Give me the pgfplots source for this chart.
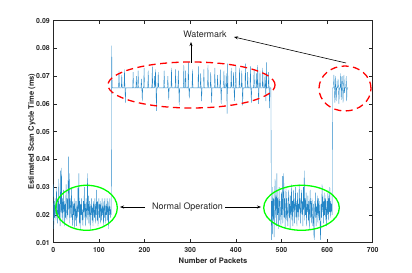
\documentclass[border=0pt]{standalone}
\usepackage{pgfplots}
\pgfplotsset{compat=1.18}
\usepackage{fontspec}
\setmainfont{TeX Gyre Heros}
\usetikzlibrary{arrows.meta}
\definecolor{mblue}{rgb}{0,0.447,0.741}
\definecolor{axgray}{rgb}{0.15,0.15,0.15}
\begin{document}
\begin{tikzpicture}
\begin{axis}[
  scale only axis, width=319.4bp, height=222bp,
  xmin=0, xmax=700, ymin=0.01, ymax=0.09,
  xtick={0,100,...,700}, ytick={0.01,0.02,0.03,0.04,0.05,0.06,0.07,0.08,0.09},
  tick align=inside, major tick length=3.3bp,
  axis line style={axgray, line width=0.5pt},
  tick style={axgray, line width=0.5pt},
  /pgf/number format/assume math mode=true,
  ticklabel style={font=\fontsize{7}{8}\selectfont\bfseries, text=axgray},
  yticklabel style={/pgf/number format/fixed, /pgf/number format/fixed zerofill, /pgf/number format/precision=2},
  scaled y ticks=false,
  xticklabel style={yshift=-1bp},
  xlabel={Number of Packets}, ylabel={Estimated Scan Cycle Time (ms)},
  label style={font=\fontsize{7.6}{9}\selectfont\bfseries, text=axgray},
  xlabel style={at={(axis description cs:0.5,-0.0824)}, anchor=center},
  ylabel style={at={(axis description cs:-0.0667,0.5)}, anchor=center},
  clip=false,
]
\addplot[mblue!85, line width=0.35pt] table {
x y
0 0.031
1 0.015
2 0.025
3 0.019
4 0.026
5 0.021
6 0.018
7 0.030
8 0.022
9 0.017
10 0.025
11 0.020
12 0.033
13 0.018
14 0.024
15 0.016
16 0.036
17 0.021
18 0.037
19 0.019
20 0.026
21 0.017
22 0.029
23 0.021
24 0.025
25 0.016
26 0.024
27 0.019
28 0.031
29 0.022
30 0.018
31 0.026
32 0.020
33 0.041
34 0.022
35 0.035
36 0.017
37 0.026
38 0.023
39 0.019
40 0.030
41 0.021
42 0.016
43 0.025
44 0.020
45 0.024
46 0.015
47 0.026
48 0.021
49 0.018
50 0.025
51 0.016
52 0.023
53 0.019
54 0.030
55 0.021
56 0.035
57 0.017
58 0.025
59 0.015
60 0.024
61 0.020
62 0.026
63 0.018
64 0.022
65 0.016
66 0.025
67 0.021
68 0.030
69 0.019
70 0.024
71 0.016
72 0.026
73 0.022
74 0.018
75 0.035
76 0.020
77 0.027
78 0.017
79 0.025
80 0.021
81 0.015
82 0.024
83 0.020
84 0.026
85 0.018
86 0.023
87 0.016
88 0.025
89 0.021
90 0.019
91 0.026
92 0.017
93 0.024
94 0.020
95 0.029
96 0.018
97 0.025
98 0.016
99 0.022
100 0.026
101 0.019
102 0.024
103 0.017
104 0.025
105 0.021
106 0.018
107 0.026
108 0.020
109 0.023
110 0.016
111 0.025
112 0.019
113 0.026
114 0.021
115 0.017
116 0.024
117 0.020
118 0.026
119 0.018
120 0.025
121 0.015
122 0.023
123 0.020
124 0.026
125 0.019
126 0.022
127 0.020
128 0.081
129 0.0658
143 0.0658
144 0.0720
145 0.0658
149 0.0658
150 0.0705
151 0.0658
155 0.0658
156 0.0725
157 0.0658
158 0.0605
159 0.0658
174 0.0658
175 0.0715
176 0.0658
181 0.0658
182 0.0700
183 0.0658
185 0.0658
186 0.0720
187 0.0658
192 0.0658
193 0.0690
194 0.0658
195 0.0610
196 0.0658
198 0.0658
199 0.0730
200 0.0658
207 0.0658
208 0.0720
209 0.0658
216 0.0658
217 0.0735
218 0.0658
221 0.0658
222 0.0700
223 0.0658
224 0.0725
225 0.0658
226 0.0575
227 0.0658
229 0.0658
230 0.0715
231 0.0658
242 0.0658
243 0.0720
244 0.0658
250 0.0658
251 0.0700
252 0.0658
253 0.0615
254 0.0658
258 0.0658
259 0.0730
260 0.0658
267 0.0658
268 0.0725
269 0.0658
273 0.0658
274 0.0720
275 0.0658
276 0.0595
277 0.0658
285 0.0658
286 0.0740
287 0.0658
289 0.0658
290 0.0720
291 0.0658
295 0.0658
296 0.0750
297 0.0658
298 0.0620
299 0.0658
304 0.0658
305 0.0725
306 0.0658
317 0.0658
318 0.0735
319 0.0658
322 0.0658
323 0.0710
324 0.0658
325 0.0610
326 0.0658
329 0.0658
330 0.0725
331 0.0658
338 0.0658
339 0.0740
340 0.0658
344 0.0658
345 0.0715
346 0.0658
347 0.0605
348 0.0658
353 0.0658
354 0.0730
355 0.0658
359 0.0658
360 0.0705
361 0.0658
365 0.0658
366 0.0725
367 0.0658
368 0.0600
369 0.0658
373 0.0658
374 0.0720
375 0.0658
378 0.0658
379 0.0710
380 0.0658
381 0.0565
382 0.0745
383 0.0658
389 0.0658
390 0.0730
391 0.0658
394 0.0658
395 0.0715
396 0.0658
397 0.0610
398 0.0658
399 0.0658
400 0.0740
401 0.0658
407 0.0658
408 0.0730
409 0.0658
412 0.0658
413 0.0720
414 0.0658
415 0.0595
416 0.0658
420 0.0658
421 0.0745
422 0.0658
425 0.0658
426 0.0715
427 0.0658
431 0.0658
432 0.0735
433 0.0658
434 0.0605
435 0.0658
439 0.0658
440 0.0725
441 0.0658
444 0.0658
445 0.0710
446 0.0658
447 0.0658
448 0.0740
449 0.0658
450 0.0600
451 0.0658
452 0.0658
453 0.0720
454 0.0658
458 0.0658
459 0.0730
460 0.0658
463 0.0658
464 0.0705
465 0.0658
466 0.0610
467 0.0750
468 0.0658
471 0.0658
472 0.0715
473 0.0658
474 0.0585
475 0.0658
477 0.0658
478 0.011
479 0.025
480 0.013
481 0.030
482 0.018
483 0.026
484 0.012
485 0.024
486 0.033
487 0.019
488 0.027
489 0.016
490 0.035
491 0.020
492 0.026
493 0.015
494 0.023
495 0.030
496 0.018
497 0.025
498 0.021
499 0.016
500 0.028
501 0.020
502 0.034
503 0.017
504 0.025
505 0.035
506 0.019
507 0.026
508 0.015
509 0.022
510 0.030
511 0.018
512 0.026
513 0.021
514 0.016
515 0.025
516 0.029
517 0.019
518 0.024
519 0.015
520 0.027
521 0.020
522 0.031
523 0.018
524 0.025
525 0.016
526 0.029
527 0.021
528 0.026
529 0.017
530 0.024
531 0.030
532 0.019
533 0.025
534 0.016
535 0.028
536 0.021
537 0.024
538 0.018
539 0.031
540 0.022
541 0.026
542 0.017
543 0.024
544 0.029
545 0.020
546 0.025
547 0.016
548 0.030
549 0.022
550 0.036
551 0.018
552 0.026
553 0.020
554 0.028
555 0.016
556 0.024
557 0.021
558 0.027
559 0.018
560 0.025
561 0.015
562 0.023
563 0.029
564 0.019
565 0.025
566 0.017
567 0.026
568 0.021
569 0.016
570 0.024
571 0.013
572 0.011
573 0.025
574 0.019
575 0.028
576 0.016
577 0.023
578 0.020
579 0.027
580 0.017
581 0.026
582 0.021
583 0.018
584 0.025
585 0.014
586 0.011
587 0.024
588 0.019
589 0.031
590 0.021
591 0.027
592 0.017
593 0.025
594 0.020
595 0.028
596 0.018
597 0.026
598 0.022
599 0.016
600 0.025
601 0.020
602 0.029
603 0.018
604 0.026
605 0.021
606 0.030
607 0.019
608 0.025
609 0.021
610 0.024
611 0.020
612 0.0658
614 0.0658
615 0.0705
616 0.0658
617 0.0605
618 0.0658
619 0.0700
620 0.0610
621 0.0658
623 0.0658
624 0.0690
625 0.0658
626 0.0600
627 0.0658
629 0.0658
630 0.0710
631 0.0615
632 0.0658
633 0.0700
634 0.0658
635 0.0605
636 0.0658
637 0.0705
638 0.0640
639 0.0658
641 0.0658
642 0.0700
643 0.0610
644 0.0658
646 0.0658
};
% annotations
\draw[red, dash pattern=on 7bp off 4.5bp, line width=1.3pt] (axis cs:302.9,0.06683) ellipse [x radius=83.5bp, y radius=23bp];
\draw[red, dash pattern=on 7bp off 4.5bp, line width=1.3pt] (axis cs:639.3,0.06557) ellipse [x radius=26bp, y radius=22.5bp];
\draw[green, line width=1.3pt] (axis cs:72.8,0.02258) ellipse [x radius=30.8bp, y radius=22.5bp];
\draw[green, line width=1.3pt] (axis cs:544,0.02258) ellipse [x radius=37.8bp, y radius=22.5bp];
\node[font=\fontsize{9}{10}\selectfont, text=axgray] at (axis cs:332.5,0.0852) {Watermark};
\node[font=\fontsize{9}{10}\selectfont, text=axgray] at (axis cs:294.1,0.0229) {Normal Operation};
\draw[-{Stealth[length=4bp,width=3bp]}, line width=0.6pt] (axis cs:301.8,0.07476) -- (axis cs:301.8,0.08232);
\draw[-{Stealth[length=4bp,width=3bp]}, line width=0.6pt] (axis cs:641.5,0.07476) -- (axis cs:396.0,0.08413);
\draw[-{Stealth[length=4bp,width=3bp]}, line width=0.6pt] (axis cs:201,0.02286) -- (axis cs:146.2,0.02286);
\draw[-{Stealth[length=4bp,width=3bp]}, line width=0.6pt] (axis cs:376.3,0.02286) -- (axis cs:455.2,0.02286);
\end{axis}
\path ([shift={(-53.3bp,-30.3bp)}]current axis.south west) rectangle ([shift={(39.3bp,20.7bp)}]current axis.north east);
\end{tikzpicture}
\end{document}
